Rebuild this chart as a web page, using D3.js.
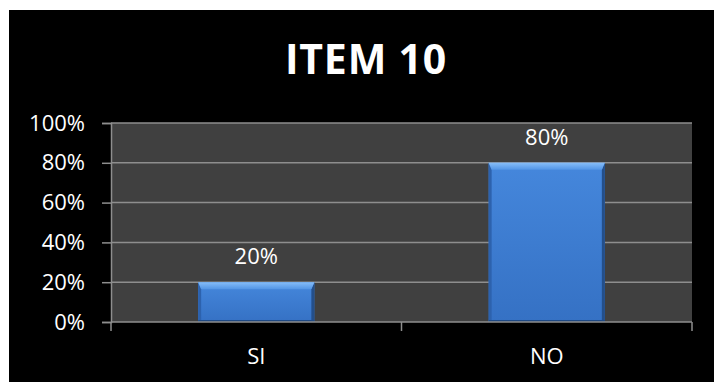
<!DOCTYPE html>
<html>
<head>
<meta charset="utf-8">
<script src="https://cdn.jsdelivr.net/npm/d3@7/dist/d3.min.js"></script>
<style>
  html, body { margin: 0; padding: 0; background: #ffffff; }
  svg { display: block; }
  text { font-family: "Open Sans", "DejaVu Sans", sans-serif; }
</style>
</head>
<body>
<script>
// Survey answers for item 10
const categories = ["SI", "NO"];
const values = [0.20, 0.80];
const valueLabels = ["20%", "80%"];
const yTicks = [0, 0.2, 0.4, 0.6, 0.8, 1.0];
const yTickLabels = ["0%", "20%", "40%", "60%", "80%", "100%"];
const title = "ITEM 10";

const W = 714, H = 382;
const plot = { left: 111, right: 692, top: 123, bottom: 322 };

const svg = d3.select("body").append("svg")
  .attr("width", W).attr("height", H);

const defs = svg.append("defs");
const body = defs.append("linearGradient").attr("id", "barBody")
  .attr("x1", 0).attr("y1", 0).attr("x2", 0).attr("y2", 1);
body.append("stop").attr("offset", "0%").attr("stop-color", "#4587dc");
body.append("stop").attr("offset", "100%").attr("stop-color", "#3571c4");
const topBevel = defs.append("linearGradient").attr("id", "barTop")
  .attr("x1", 0).attr("y1", 0).attr("x2", 0).attr("y2", 1);
topBevel.append("stop").attr("offset", "0%").attr("stop-color", "#86bdf8");
topBevel.append("stop").attr("offset", "100%").attr("stop-color", "#5295e6");

// chart background
svg.append("rect").attr("x", 9).attr("y", 10)
  .attr("width", W - 9).attr("height", H - 10).attr("fill", "#000000");

svg.append("text")
  .attr("x", 366).attr("y", 74)
  .attr("text-anchor", "middle")
  .attr("fill", "#ffffff")
  .attr("font-size", 41).attr("font-weight", 700)
  .attr("letter-spacing", 0.8)
  .text(title);

const x = d3.scaleBand().domain(categories)
  .range([plot.left, plot.right]).paddingInner(0).paddingOuter(0);
const y = d3.scaleLinear().domain([0, 1]).range([plot.bottom, plot.top]);

// plot area
svg.append("rect")
  .attr("x", plot.left).attr("y", plot.top)
  .attr("width", plot.right - plot.left).attr("height", plot.bottom - plot.top)
  .attr("fill", "#404040");

// gridlines
svg.append("g").selectAll("line").data(yTicks.slice(1)).join("line")
  .attr("x1", plot.left).attr("x2", plot.right)
  .attr("y1", d => y(d)).attr("y2", d => y(d))
  .attr("stroke", "#8e8e8e").attr("stroke-width", 1.5);

// y axis
const yAxis = d3.axisLeft(y).tickValues(yTicks)
  .tickFormat((d, i) => yTickLabels[i]).tickSize(9).tickPadding(17);
const gy = svg.append("g").attr("transform", `translate(${plot.left},0)`).call(yAxis);
gy.select(".domain").attr("stroke", "#8e8e8e").attr("stroke-width", 1.5);
gy.selectAll(".tick line").attr("stroke", "#8e8e8e").attr("stroke-width", 1.5);
gy.selectAll(".tick text").attr("fill", "#ffffff")
  .attr("font-size", 22).attr("font-family", "'Open Sans', sans-serif");

// bars
const barW = x.bandwidth() * 0.4;
const bev = 7, side = 3;
const bars = svg.append("g").selectAll("g").data(categories).join("g");
bars.each(function (c, i) {
  const g = d3.select(this);
  const x0 = x(c) + (x.bandwidth() - barW) / 2, x1 = x0 + barW;
  const yt = y(values[i]), yb = y(0);
  g.append("rect").attr("x", x0).attr("y", yt).attr("width", barW).attr("height", yb - yt)
    .attr("fill", "url(#barBody)");
  // side bevels
  g.append("polygon")
    .attr("points", [[x0, yt], [x0 + side, yt + bev], [x0 + side, yb], [x0, yb]].join(" "))
    .attr("fill", "#2d62ad");
  g.append("polygon")
    .attr("points", [[x1, yt], [x1 - side, yt + bev], [x1 - side, yb], [x1, yb]].join(" "))
    .attr("fill", "#244f8a");
  // top bevel
  g.append("polygon")
    .attr("points", [[x0, yt], [x1, yt], [x1 - side, yt + bev], [x0 + side, yt + bev]].join(" "))
    .attr("fill", "url(#barTop)");
  g.append("line").attr("x1", x0).attr("x2", x1).attr("y1", yb - 1).attr("y2", yb - 1)
    .attr("stroke", "#1f4a85").attr("stroke-width", 2);
});

// value labels
svg.append("g").selectAll("text").data(categories).join("text")
  .attr("x", c => x(c) + x.bandwidth() / 2)
  .attr("y", (c, i) => y(values[i]) - 18)
  .attr("text-anchor", "middle").attr("fill", "#ffffff").attr("font-size", 22)
  .text((c, i) => valueLabels[i]);

// x axis
const xAxis = d3.axisBottom(x).tickSize(0).tickPadding(26);
const gx = svg.append("g").attr("transform", `translate(0,${plot.bottom})`).call(xAxis);
gx.select(".domain").remove();
gx.selectAll(".tick text").attr("fill", "#ffffff")
  .attr("font-size", 22).attr("font-family", "'Open Sans', sans-serif");
gx.append("line").attr("x1", plot.left).attr("x2", plot.right)
  .attr("y1", 0).attr("y2", 0).attr("stroke", "#8e8e8e").attr("stroke-width", 1.5);
gx.selectAll("line.sep").data([plot.left, (plot.left + plot.right) / 2, plot.right]).join("line")
  .attr("class", "sep")
  .attr("x1", d => d).attr("x2", d => d).attr("y1", 0).attr("y2", 9)
  .attr("stroke", "#8e8e8e").attr("stroke-width", 1.5);
</script>
</body>
</html>
